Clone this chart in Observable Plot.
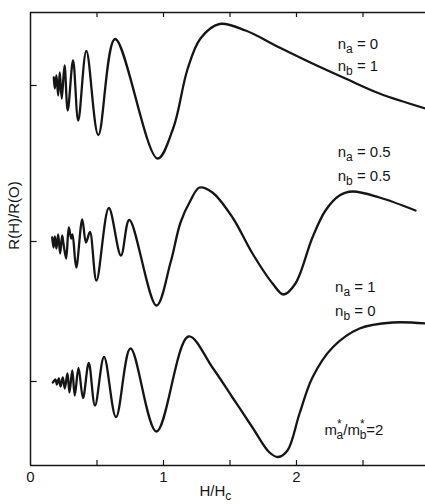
<!DOCTYPE html>
<html><head><meta charset="utf-8">
<script src="https://cdn.jsdelivr.net/npm/d3@7"></script>
<script src="https://cdn.jsdelivr.net/npm/@observablehq/plot@0.6"></script>
<style>body{margin:0;background:#fff} #chart svg{display:block}</style>
</head><body><div id="chart"></div>
<script>
// Curve 1: n_a = 0, n_b = 1  (H/Hc, R deviation from its baseline)
const h1 = [0.175,0.183,0.195,0.208,0.220,0.235,0.256,0.280,0.320,0.359,0.420,0.510,0.636,0.955,1.075,1.180,1.278,1.421,1.617,1.872,2.120,2.368,2.624,2.970];
const r1 = [0.08,-0.03,0.10,-0.10,0.13,-0.13,0.20,-0.25,0.25,-0.35,0.345,-0.495,0.465,-0.73,-0.42,0.16,0.47,0.615,0.55,0.38,0.22,0.07,-0.08,-0.23];
// Curve 2: n_a = 0.5, n_b = 0.5
const h2 = [0.163,0.173,0.183,0.195,0.208,0.223,0.238,0.250,0.268,0.288,0.306,0.316,0.344,0.389,0.417,0.447,0.496,0.589,0.680,0.743,0.947,1.053,1.128,1.203,1.271,1.368,1.519,1.669,1.820,1.902,1.992,2.120,2.218,2.323,2.421,2.624,2.895];
const r2 = [0.04,-0.06,0.05,-0.07,0.07,-0.12,0.06,-0.04,-0.17,0.14,0.03,0.07,-0.26,0.22,-0.01,0.095,-0.39,0.335,-0.14,0.215,-0.64,-0.21,0.19,0.41,0.54,0.49,0.24,-0.12,-0.42,-0.53,-0.42,0.04,0.31,0.46,0.50,0.44,0.31];
// Curve 3: n_a = 1, n_b = 0
const h3 = [0.168,0.188,0.198,0.213,0.226,0.243,0.258,0.278,0.293,0.314,0.333,0.361,0.395,0.438,0.485,0.553,0.643,0.752,0.947,1.188,1.368,1.519,1.669,1.797,1.861,1.932,2.023,2.120,2.271,2.474,2.722,2.970];
const r3 = [-0.01,0.02,-0.03,0.03,-0.05,0.04,-0.07,0.08,-0.11,0.11,-0.14,0.135,-0.165,0.185,-0.24,0.245,-0.355,0.33,-0.50,0.45,0.14,-0.16,-0.46,-0.71,-0.755,-0.69,-0.32,0.04,0.34,0.53,0.59,0.58];

const offsets = [3.80, 2.24, 0.84];          // vertical baselines of the three curves
const xTickValues = [0, 1, 2];
const xTickLabels = ["0", "1", "2"];
const minorTicks = [0.5, 1, 1.5, 2, 2.5];
const labels = ["n_a = 0", "n_b = 1", "n_a = 0.5", "n_b = 0.5", "n_a = 1", "n_b = 0", "m*_a/m*_b=2"];
const labelH = [2.31, 2.31, 2.31, 2.31, 2.29, 2.29, 2.21];
const labelY = [4.21, 3.99, 3.13, 2.89, 1.78, 1.54, 0.35];
const xLabel = "H/H_c";
const yLabel = "R(H)/R(O)";

const X0 = 0, X1 = 2.97, Y0 = 0, Y1 = 4.53;

const series = [[h1, r1], [h2, r2], [h3, r3]];
const rows = series.flatMap(([h, r], k) => h.map((v, i) => ({H: v, y: offsets[k] + r[i], s: k})));
const labelRows = labels.map((t, i) => ({t, x: labelH[i], y: labelY[i]}));
const ink = "#151515";

const chart = Plot.plot({
  width: 425, height: 504,
  marginLeft: 30, marginRight: 0, marginTop: 12, marginBottom: 39,
  x: {domain: [X0, X1], axis: null},
  y: {domain: [Y0, Y1], axis: null},
  style: {background: "white", color: ink, fontFamily: "'Liberation Sans', Arial, sans-serif"},
  marks: [
    Plot.ruleX([X0], {y1: Y0, y2: Y1, stroke: ink, strokeWidth: 1.5}),
    Plot.ruleY([Y0, Y1], {x1: X0, x2: X1, stroke: ink, strokeWidth: 1.5}),
    Plot.ruleX(minorTicks, {y1: Y0, y2: Y0 + 0.05, stroke: ink, strokeWidth: 1.2}),
    Plot.ruleX(minorTicks, {y1: Y1, y2: Y1 - 0.05, stroke: ink, strokeWidth: 1.2}),
    Plot.ruleY(offsets, {x1: X0, x2: X0 + 0.05, stroke: ink, strokeWidth: 1.2}),
    Plot.text(xTickValues, {x: d => d, y: Y0, dy: 12, text: (d, i) => xTickLabels[i], fontSize: 15, fill: ink}),
    Plot.text([xLabel], {x: 1.39, y: Y0, dy: 26, text: d => d, fontSize: 15, fill: ink}),
    Plot.text([yLabel], {x: X0, y: 2.5, dx: -16, rotate: -90, text: d => d, fontSize: 15, fill: ink}),
    Plot.line(rows, {x: "H", y: "y", z: "s", curve: "catmull-rom", stroke: ink, strokeWidth: 2.3}),
    Plot.text(labelRows, {x: "x", y: "y", text: "t", textAnchor: "start", fontSize: 15, fill: ink})
  ]
});

// turn "_x" into subscripts and "*" into superscripts
const NS = "http://www.w3.org/2000/svg";
chart.querySelectorAll("text").forEach(el => {
  const s = el.textContent;
  if (!/[_*]/.test(s)) return;
  el.textContent = "";
  let cur = 0, i = 0, buf = "";
  const add = (t, shift, extra = {}) => {
    const ts = document.createElementNS(NS, "tspan");
    ts.textContent = t;
    ts.setAttribute("dy", shift - cur);
    for (const k in extra) ts.setAttribute(k, extra[k]);
    cur = shift;
    el.appendChild(ts);
  };
  const flush = () => { if (buf) { add(buf, 0); buf = ""; } };
  while (i < s.length) {
    const c = s[i];
    if (c === "_") { flush(); add(s[i + 1], 3.5, {"font-size": 12}); i += 2; }
    else if (c === "*") {
      flush(); add("*", -7, {"font-size": 12});
      if (s[i + 1] === "_") { add(s[i + 2], 3.5, {"font-size": 12, dx: -5}); i += 3; } else i += 1;
    }
    else { buf += c; i++; }
  }
  flush();
});

document.getElementById("chart").appendChild(chart);
</script>
</body></html>
